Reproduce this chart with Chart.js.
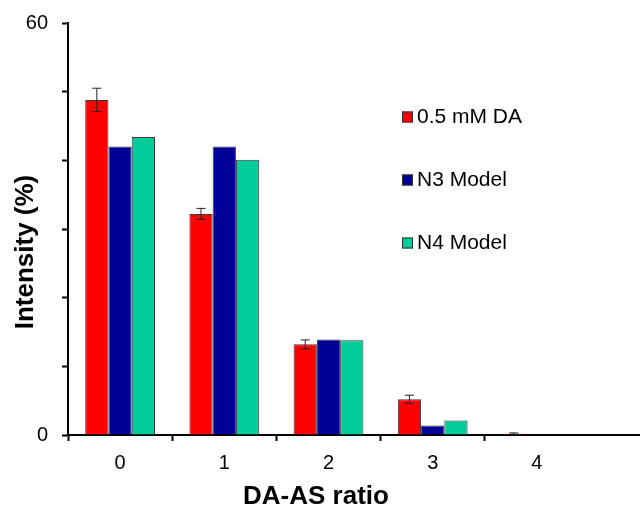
<!DOCTYPE html>
<html>
<head>
<meta charset="utf-8">
<script src="https://cdn.jsdelivr.net/npm/chart.js@4"></script>
<style>
  html, body { margin: 0; padding: 0; background: #fff; }
  #wrap { width: 640px; height: 512px; }
</style>
</head>
<body>
<div id="wrap"><canvas id="myChart" width="640" height="512"></canvas></div>
<script>
const categories = ['0', '1', '2', '3', '4'];
const seriesNames = ['0.5 mM DA', 'N3 Model', 'N4 Model'];
const daValues = [48.8, 32.2, 13.2, 5.2, 0.2];
const daErrors = [1.7, 0.8, 0.65, 0.6, 0.1];
const n3Values = [42.0, 42.0, 13.9, 1.4, 0];
const n4Values = [43.4, 40.1, 13.8, 2.1, 0];
const yLabels = [0, 60];

const FONT = '"Liberation Sans", Arial, sans-serif';

// error bars on the first series
const errorBars = {
  id: 'errorBars',
  afterDatasetsDraw(chart) {
    const meta = chart.getDatasetMeta(0);
    const y = chart.scales.y;
    const c = chart.ctx;
    c.save();
    c.strokeStyle = '#222';
    c.lineWidth = 1;
    meta.data.forEach((bar, i) => {
      const v = daValues[i], e = daErrors[i];
      const top = y.getPixelForValue(v + e);
      const bot = y.getPixelForValue(v - e);
      c.beginPath();
      c.moveTo(bar.x, top); c.lineTo(bar.x, bot);
      c.moveTo(bar.x - 4.5, top); c.lineTo(bar.x + 4.5, top);
      c.moveTo(bar.x - 4.5, bot); c.lineTo(bar.x + 4.5, bot);
      c.stroke();
    });
    c.restore();
  }
};

// legend inside the plot, axis extension and axis titles
const extras = {
  id: 'extras',
  afterDraw(chart) {
    const c = chart.ctx;
    const area = chart.chartArea;
    c.save();
    // x axis line runs to the edge
    c.strokeStyle = '#000';
    c.lineWidth = 2;
    c.beginPath();
    c.moveTo(area.right - 1, area.bottom);
    c.lineTo(chart.width, area.bottom);
    c.stroke();

    // legend
    c.font = '21px ' + FONT;
    c.textBaseline = 'middle';
    chart.data.datasets.forEach((ds, i) => {
      const cy = 117 + i * 63;
      c.fillStyle = ds.backgroundColor;
      c.fillRect(402, cy - 5.5, 11, 11);
      c.strokeStyle = '#333';
      c.lineWidth = 1;
      c.strokeRect(402.5, cy - 5, 10, 10);
      c.fillStyle = '#000';
      c.fillText(ds.label, 417, cy);
    });

    // axis titles
    c.font = 'bold 26px ' + FONT;
    c.textAlign = 'center';
    c.fillText('DA-AS ratio', 316, 497);
    c.translate(26, 252);
    c.rotate(-Math.PI / 2);
    c.fillText('Intensity (%)', 0, 0);
    c.restore();
  }
};

new Chart(document.getElementById('myChart'), {
  type: 'bar',
  data: {
    labels: categories,
    datasets: [
      { label: seriesNames[0], data: daValues, backgroundColor: '#FF0000' },
      { label: seriesNames[1], data: n3Values, backgroundColor: '#000099' },
      { label: seriesNames[2], data: n4Values, backgroundColor: '#00CC99' }
    ]
  },
  options: {
    responsive: false,
    animation: false,
    layout: { padding: { top: 23, right: 51, left: 0, bottom: 0 } },
    datasets: {
      bar: {
        borderWidth: 1,
        borderColor: '#3a3a3a',
        categoryPercentage: 0.67,
        barPercentage: 1.0
      }
    },
    scales: {
      x: {
        afterFit: s => { s.height = 77; s.paddingLeft = 0; s.paddingRight = 0; },
        grid: {
          offset: true,
          drawOnChartArea: false,
          tickLength: 6,
          tickWidth: 2,
          // no tick mark at the right end, the axis just runs on
          color: ctx => ctx.type === 'tick' ? '#000' : 'rgba(0,0,0,0)'
        },
        border: { color: '#000', width: 2 },
        ticks: { color: '#000', padding: 10, font: { family: FONT, size: 20 } }
      },
      y: {
        min: 0,
        max: 60,
        afterFit: s => { s.width = 68; s.paddingTop = 0; s.paddingBottom = 0; },
        grid: { drawOnChartArea: false, tickLength: 6, tickWidth: 2, color: '#000' },
        border: { color: '#000', width: 2 },
        ticks: {
          stepSize: 10,
          color: '#000',
          padding: 14,
          font: { family: FONT, size: 20 },
          callback: v => yLabels.includes(v) ? v : ''
        }
      }
    },
    plugins: {
      legend: { display: false },
      tooltip: { enabled: false }
    }
  },
  plugins: [errorBars, extras]
});
</script>
</body>
</html>
